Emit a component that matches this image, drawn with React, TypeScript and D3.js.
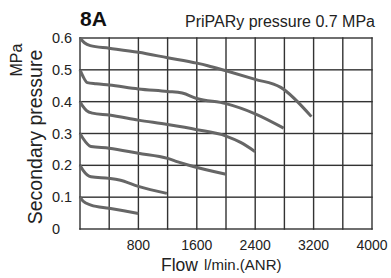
import React from "react";
import * as d3 from "d3";

// flow-pressure characteristic curves, one per set pressure
const setPressures = [0.6, 0.5, 0.4, 0.3, 0.2, 0.1];

const flow06 = [0, 60, 140, 400, 800, 1200, 1600, 1750, 2000, 2400, 2750, 3170];
const pres06 = [0.6, 0.585, 0.576, 0.568, 0.555, 0.538, 0.521, 0.513, 0.497, 0.47, 0.445, 0.353];

const flow05 = [0, 40, 100, 220, 400, 800, 1200, 1400, 1600, 2000, 2400, 2790];
const pres05 = [0.5, 0.48, 0.46, 0.456, 0.452, 0.44, 0.432, 0.427, 0.41, 0.394, 0.362, 0.317];

const flow04 = [0, 40, 90, 170, 400, 800, 1200, 1600, 2000, 2200, 2400];
const pres04 = [0.4, 0.385, 0.372, 0.364, 0.358, 0.342, 0.328, 0.312, 0.292, 0.272, 0.243];

const flow03 = [0, 40, 150, 400, 800, 1200, 1340, 1480, 2000];
const pres03 = [0.3, 0.285, 0.259, 0.254, 0.238, 0.222, 0.211, 0.201, 0.172];

const flow02 = [0, 40, 150, 400, 540, 800, 1190];
const pres02 = [0.2, 0.185, 0.164, 0.159, 0.154, 0.134, 0.112];

const flow01 = [0, 40, 150, 400, 800];
const pres01 = [0.1, 0.088, 0.075, 0.065, 0.049];

const flowTicks = [800, 1600, 2400, 3200, 4000];
const pressureTicks = [0, 0.1, 0.2, 0.3, 0.4, 0.5, 0.6];

const series = [
  { flow: flow06, pres: pres06 },
  { flow: flow05, pres: pres05 },
  { flow: flow04, pres: pres04 },
  { flow: flow03, pres: pres03 },
  { flow: flow02, pres: pres02 },
  { flow: flow01, pres: pres01 },
];

const FONT = "Liberation Sans, Arial, sans-serif";

const App = () => {
  const x = d3.scaleLinear().domain([0, 4000]).range([80, 372]);
  const y = d3.scaleLinear().domain([0, 0.6]).range([229, 38]);

  const curveGen = d3
    .line<[number, number]>()
    .x((d) => x(d[0]))
    .y((d) => y(d[1]))
    .curve(d3.curveMonotoneX);

  // grid every 400 l/min and every 0.1 MPa, drawn as thin filled bars
  const gridFlows = d3.range(0, 4001, 400);
  const gw = 1.4;

  return (
    <svg width={391} height={278} style={{ position: "absolute", left: 0, top: 0 }}>
      <g fill="#333">
        {gridFlows.map((f) => (
          <rect key={"v" + f} x={x(f) - gw / 2} y={y(0.6) - gw / 2} width={gw} height={y(0) - y(0.6) + gw} />
        ))}
        {pressureTicks.map((p) => (
          <rect key={"h" + p} x={x(0) - gw / 2} y={y(p) - gw / 2} width={x(4000) - x(0) + gw} height={gw} />
        ))}
      </g>

      {series.map((s, i) => (
        <path
          key={setPressures[i]}
          d={curveGen(s.flow.map((f, j) => [f, s.pres[j]] as [number, number])) || ""}
          fill="none"
          stroke="#666"
          strokeWidth={3}
        />
      ))}

      <g fontFamily={FONT} fill="#222">
        {pressureTicks.map((p) => (
          <text key={"yt" + p} x={52} y={y(p) + 5} fontSize={14.5}>
            {p === 0 ? "0" : p.toFixed(1)}
          </text>
        ))}
        {flowTicks.map((f) => (
          <text key={"xt" + f} x={x(f)} y={250} fontSize={14} textAnchor="middle">
            {f}
          </text>
        ))}
        <text x={80} y={26} fontSize={21} fontWeight="bold" fill="#111">
          8A
        </text>
        <text x={375} y={27} fontSize={16} textAnchor="end">
          PriPARy pressure 0.7 MPa
        </text>
        <text x={161} y={271} fontSize={17.5}>
          Flow
        </text>
        <text x={204} y={270} fontSize={15}>
          l/min.(ANR)
        </text>
        <text transform="translate(41.5,137) rotate(-90)" fontSize={19.5} textAnchor="middle">
          Secondary pressure
        </text>
        <text transform="translate(21.5,60) rotate(-90)" fontSize={16} textAnchor="middle">
          MPa
        </text>
      </g>
    </svg>
  );
};

export default App;
